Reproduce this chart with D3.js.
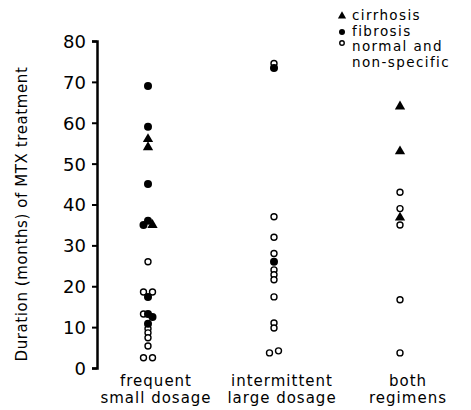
<!DOCTYPE html>
<html>
<head>
<meta charset="utf-8">
<script src="https://cdn.jsdelivr.net/npm/d3@7"></script>
<style>
  body { margin: 0; background: #fff; }
  text { font-family: "DejaVu Sans", sans-serif; fill: #000; }
</style>
</head>
<body>
<svg id="chart" width="471" height="410"></svg>
<script>
// categories along the x axis, with the two-line labels as printed
var categories = ["frequent small dosage", "intermittent large dosage", "both regimens"];
var categoryLines = [["frequent", "small dosage"], ["intermittent", "large dosage"], ["both", "regimens"]];
var yTicks = [0, 10, 20, 30, 40, 50, 60, 70, 80];

// finding codes: C = cirrhosis, F = fibrosis, N = normal and non-specific
var findings = ["C", "F", "N"];
var legendLines = [["cirrhosis"], ["fibrosis"], ["normal and", "non-specific"]];

// months of MTX treatment; points printed side by side are kept in one inner list
var frequentSmall = [
  [[69, "F"]], [[59, "F"]], [[56, "C"]], [[54, "C"]], [[45, "F"]],
  [[35, "F"], [36, "F"], [35, "C"]],
  [[26, "N"]],
  [[18.6, "N"], [17.4, "F"], [18.6, "N"]],
  [[13.2, "N"], [13.2, "F"], [12.5, "F"]],
  [[10.8, "F"]], [[9.6, "N"]], [[8.6, "N"]], [[7.4, "N"]], [[5.4, "N"]],
  [[2.5, "N"], [2.5, "N"]]
];
var intermittentLarge = [
  [[74.5, "N"]], [[73.4, "F"]], [[37, "N"]], [[32, "N"]], [[28, "N"]], [[26, "F"]],
  [[24, "N"]], [[22.8, "N"]], [[21.6, "N"]], [[17.4, "N"]], [[11, "N"]], [[9.8, "N"]],
  [[3.7, "N"], [4.2, "N"]]
];
var bothRegimens = [
  [[64, "C"]], [[53, "C"]], [[43, "N"]], [[39, "N"]], [[36.8, "C"]], [[35, "N"]],
  [[16.7, "N"]], [[3.7, "N"]]
];
var seriesByCategory = [frequentSmall, intermittentLarge, bothRegimens];

var svg = d3.select("#chart");

var x = d3.scalePoint().domain(categories).range([148, 400]);
var y = d3.scaleLinear().domain([0, 80]).range([368, 41]);

// flatten groups, spreading side-by-side points over ~9px
var points = [];
seriesByCategory.forEach(function(groups, ci) {
  groups.forEach(function(group) {
    var n = group.length, step = n > 1 ? 9 / (n - 1) : 0;
    group.forEach(function(p, j) {
      points.push({ cat: categories[ci], value: p[0], finding: p[1], dx: (j - (n - 1) / 2) * step });
    });
  });
});

var tri = d3.symbol().type(d3.symbolTriangle);

function drawMarker(sel, finding, scale) {
  if (finding === "C") {
    sel.append("path").attr("d", tri.size(46 * scale * scale)()).attr("fill", "#000");
  } else if (finding === "F") {
    sel.append("circle").attr("r", 4 * scale).attr("fill", "#000");
  } else {
    sel.append("circle").attr("r", 3 * scale).attr("fill", "#fff")
      .attr("stroke", "#000").attr("stroke-width", 1.4);
  }
}

// axis
var yAxis = svg.append("g")
  .attr("transform", "translate(97,0)")
  .call(d3.axisLeft(y).tickValues(yTicks).tickSize(5).tickSizeOuter(5).tickPadding(6));
yAxis.select(".domain").attr("stroke-width", 2.5);
yAxis.selectAll(".tick line").attr("stroke-width", 2);
yAxis.selectAll(".tick text")
  .style("font-family", "DejaVu Sans, sans-serif")
  .style("font-size", "18px")
  .attr("dy", "0.36em");

svg.append("text")
  .attr("transform", "translate(27,214) rotate(-90)")
  .attr("text-anchor", "middle")
  .style("font-size", "15px")
  .style("letter-spacing", "0.6px")
  .text("Duration (months) of MTX treatment");

// category labels
categories.forEach(function(c, i) {
  var t = svg.append("text")
    .attr("text-anchor", "middle")
    .style("font-size", "15px")
    .style("letter-spacing", "1px");
  categoryLines[i].forEach(function(line, k) {
    t.append("tspan").attr("x", x(c) + 8).attr("y", 386 + k * 17).text(line);
  });
});

// points: open first so filled marks sit on top
points.sort(function(a, b) { return (a.finding === "N" ? 0 : 1) - (b.finding === "N" ? 0 : 1); });
svg.append("g").selectAll("g")
  .data(points)
  .enter().append("g")
    .attr("transform", function(d) { return "translate(" + (x(d.cat) + d.dx) + "," + y(d.value) + ")"; })
    .each(function(d) { drawMarker(d3.select(this), d.finding, 1); });

// legend
var legend = svg.append("g").attr("transform", "translate(342,0)");
var legendRows = [16, 32, 47];
findings.forEach(function(f, i) {
  var m = legend.append("g").attr("transform", "translate(0," + (legendRows[i] - (f === "N" ? 4 : 0)) + ")");
  drawMarker(m, f, f === "C" ? 0.8 : 0.75);
  var t = legend.append("text").style("font-size", "13.5px").style("letter-spacing", "1.4px");
  legendLines[i].forEach(function(line, k) {
    t.append("tspan").attr("x", 10).attr("y", legendRows[i] + 4 + k * 16).text(line);
  });
});
</script>
</body>
</html>
